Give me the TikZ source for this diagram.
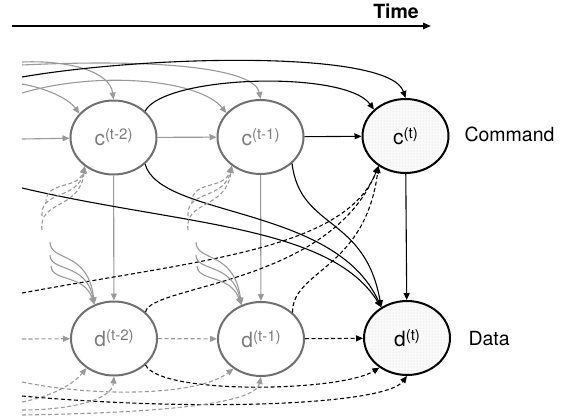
\documentclass[tikz,border=0pt]{standalone}
\usepackage{fontspec}
\setmainfont{TeX Gyre Heros}
\usetikzlibrary{arrows.meta,shapes.geometric,patterns}
\definecolor{edgegray}{HTML}{9A9A9A}
\definecolor{nodegray}{HTML}{707070}
\definecolor{textgray}{HTML}{7C7C7C}
\newcommand\varlbl[2]{{\fontsize{21}{21}\selectfont #1}\raisebox{6pt}{\fontsize{15}{15}\selectfont(#2)}}
\tikzset{
  past/.style={ellipse, draw=nodegray, line width=2pt, minimum width=86pt, minimum height=74pt, inner sep=0pt, text=textgray},
  now/.style={ellipse, draw=black, line width=2pt, minimum width=86pt, minimum height=74pt, inner sep=0pt,
              preaction={fill=gray!4}, pattern=dots, pattern color=gray!30},
  tipx/.style={-{Triangle[length=7pt,width=6pt]}},
  gl/.style={draw=edgegray, line width=1.1pt, tipx},
  gd/.style={gl, dash pattern=on 4pt off 2.5pt},
  kl/.style={draw=black, line width=1.1pt, tipx},
  kd/.style={kl, dash pattern=on 4pt off 2.5pt},
  side/.style={anchor=west, font=\fontsize{19.5}{19.5}\selectfont}
}
\begin{document}
\begin{tikzpicture}[x=1pt,y=-1pt]
\useasboundingbox (0,0) rectangle (580,418);
% nodes
\node[past] (c2) at (113.5,137.5) {\varlbl{c}{t-2}};
\node[past] (c1) at (260.5,137) {\varlbl{c}{t-1}};
\node[now]  (c0) at (405.5,136) {\varlbl{c}{t}};
\node[past] (d2) at (114,338.5) {\varlbl{d}{t-2}};
\node[past] (d1) at (261,339) {\varlbl{d}{t-1}};
\node[now]  (d0) at (407,338) {\varlbl{d}{t}};
\node[side] (cmd) at (461,134) {Command};
\node[side] (dat) at (465,339) {Data};
% time arrow
\coordinate (t0) at (12,26);
\coordinate (t1) at (431,26);
\draw[line width=1.5pt, -{Triangle[length=8pt,width=6.5pt]}] (t0) -- (t1);
\node[anchor=base east, font=\bfseries\fontsize{19.5}{19.5}\selectfont, inner sep=0pt] (time) at (419,18) {Time};
% straight connections
\coordinate (inc) at (22,139);
\coordinate (ind) at (22,339);
\draw[gl] (inc) -- (c2);
\draw[gl] (c2) -- (c1);
\draw[kl] (c1) -- (c0);
\draw[gl] (c2) -- (d2);
\draw[gl] (c1) -- (d1);
\draw[kl] (c0) -- (d0);
\draw[gd] (ind) -- (d2);
\draw[gd] (d2) -- (d1);
\draw[kd] (d1) -- (d0);
% top arcs
\coordinate (a1) at (22,62);
\coordinate (a2) at (22,84);
\coordinate (a3) at (22,65);
\coordinate (a4) at (22,93);
\coordinate (a5) at (22,77);
\draw[gl] (a1) .. controls (70,60) and (110,72) .. (c2.north);
\draw[gl] (a2) .. controls (45,88) and (68,98) .. (c2.145);
\draw[gl] (a3) .. controls (170,58) and (255,70) .. (c1.north);
\draw[gl] (a4) .. controls (100,70) and (200,80) .. (c1.145);
\draw[kl] (a5) .. controls (150,55) and (390,50) .. (c0.north);
\draw[kl] (c2.40) .. controls (165,75) and (345,70) .. (c0.140);
% solid black into d(t)
\coordinate (a6) at (22,188);
\draw[kl] (c1.-40) .. controls (300,230) and (365,215) .. (d0.130);
\draw[kl] (c2.-40) .. controls (160,218) and (335,205) .. (d0.130);
\draw[kl] (a6) .. controls (180,225) and (330,225) .. (d0.130);
% dashed black into c(t)
\coordinate (a7) at (22,293);
\draw[kd] (a7) .. controls (200,260) and (345,250) .. (c0.-132);
\draw[kd] (d2.40) .. controls (150,285) and (330,285) .. (c0.-132);
\draw[kd] (d1.40) .. controls (292,270) and (365,270) .. (c0.-132);
% dashed black into d(t)
\coordinate (a8) at (22,396);
\draw[kd] (d2.-40) .. controls (160,395) and (340,392) .. (d0.-133);
\draw[kd] (a8) .. controls (200,412) and (385,405) .. (d0.south);
% gray dashed bottom arcs
\coordinate (b1) at (22,382);
\coordinate (b2) at (22,402);
\coordinate (b3) at (22,410);
\coordinate (b4) at (22,415);
\draw[gd] (b1) .. controls (100,398) and (200,395) .. (d1.-133);
\draw[gd] (b2) .. controls (48,397) and (72,386) .. (d2.-133);
\draw[gd] (b3) .. controls (70,410) and (112,400) .. (d2.south);
\draw[gd] (b4) .. controls (150,413) and (255,405) .. (d1.south);
% dashed stubs into c nodes
\coordinate (p1) at (42,230);
\coordinate (p2) at (42,216);
\coordinate (p3) at (46,203);
\draw[gd] (p1) .. controls (38,200) and (80,210) .. (c2.-135);
\draw[gd] (p2) .. controls (40,190) and (78,200) .. (c2.-135);
\draw[gd] (p3) .. controls (45,180) and (78,190) .. (c2.-135);
\coordinate (p4) at (188,230);
\coordinate (p5) at (188,216);
\coordinate (p6) at (192,203);
\draw[gd] (p4) .. controls (184,200) and (226,210) .. (c1.-135);
\draw[gd] (p5) .. controls (186,190) and (224,200) .. (c1.-135);
\draw[gd] (p6) .. controls (191,180) and (224,190) .. (c1.-135);
% solid stubs into d nodes
\coordinate (q1) at (50,242);
\coordinate (q2) at (50,255);
\coordinate (q3) at (51,266);
\draw[gl] (q1) .. controls (50,262) and (88,250) .. (d2.120);
\draw[gl] (q2) .. controls (50,272) and (86,262) .. (d2.120);
\draw[gl] (q3) .. controls (52,282) and (84,274) .. (d2.120);
\coordinate (q4) at (196,242);
\coordinate (q5) at (196,255);
\coordinate (q6) at (197,266);
\draw[gl] (q4) .. controls (196,262) and (234,250) .. (d1.120);
\draw[gl] (q5) .. controls (196,272) and (232,262) .. (d1.120);
\draw[gl] (q6) .. controls (198,282) and (230,274) .. (d1.120);
\end{tikzpicture}
\end{document}
